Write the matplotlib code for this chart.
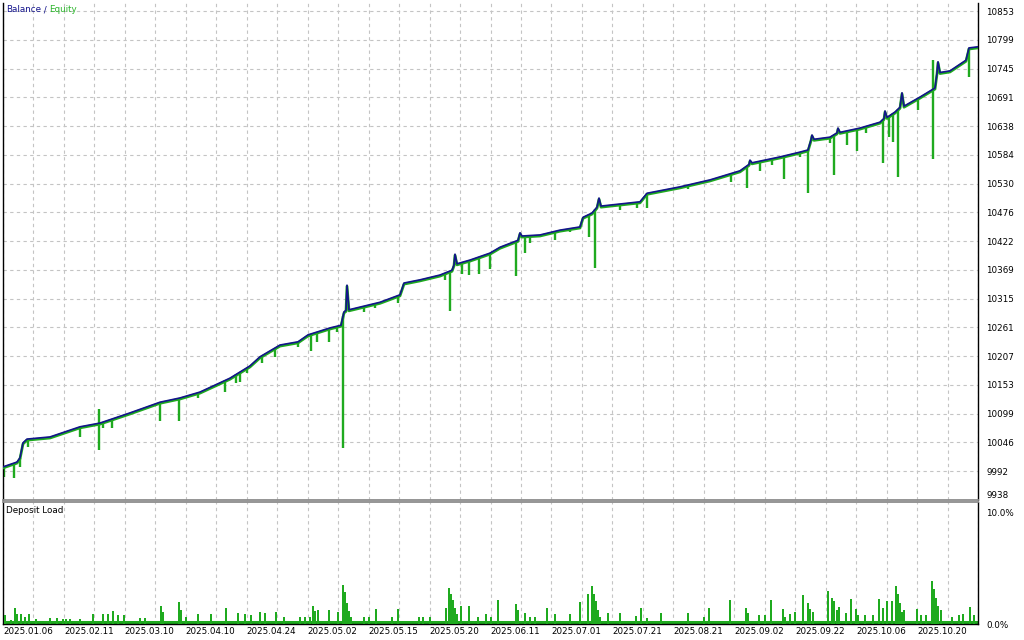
import matplotlib.pyplot as plt
import numpy as np

# balance curve: deal index, balance
bal_x = [0, 14, 17, 20, 24, 47, 77, 97, 127, 157, 177, 197, 227, 247, 257, 277, 295, 305,
         327, 338, 341, 343, 344, 346, 377, 397, 401, 417, 437, 449, 451, 452, 454, 467,
         487, 497, 515, 517, 519, 537, 557, 577, 580, 589, 594, 596, 598, 637, 644, 677,
         707, 737, 746, 747, 749, 777, 797, 805, 808, 809, 811, 827, 834, 835, 837, 857,
         877, 881, 882, 884, 892, 897, 899, 901, 917, 932, 934, 935, 937, 947, 963, 966, 975]
bal_y = [10000, 10009, 10017, 10045, 10052, 10056, 10075, 10082, 10101, 10121, 10129, 10140,
         10166, 10189, 10206, 10228, 10234, 10247, 10260, 10265, 10290, 10293, 10340, 10294,
         10308, 10322, 10344, 10350, 10359, 10368, 10378, 10398, 10380, 10387, 10400, 10411,
         10424, 10438, 10432, 10434, 10443, 10449, 10467, 10475, 10486, 10503, 10488, 10496,
         10512, 10524, 10537, 10554, 10566, 10574, 10569, 10580, 10589, 10593, 10612, 10621,
         10613, 10617, 10625, 10634, 10626, 10634, 10645, 10652, 10666, 10654, 10664, 10673,
         10700, 10675, 10692, 10709, 10737, 10758, 10738, 10741, 10761, 10784, 10786]

# equity dips: deal index, lowest equity
dip_x = [1, 11, 17, 25, 77, 96, 100, 109, 157, 176, 195, 222, 233, 237, 244, 259, 272, 295,
         308, 314, 326, 334, 340, 361, 372, 395, 442, 447, 459, 466, 476, 487, 513, 522, 527,
         552, 567, 586, 592, 617, 634, 644, 685, 702, 728, 744, 757, 769, 781, 797, 805, 827,
         831, 844, 854, 863, 880, 886, 890, 895, 915, 930, 966]
dip_y = [9981, 9979, 10000, 10037, 10056, 10031, 10073, 10073, 10086, 10086, 10129, 10140,
         10157, 10159, 10176, 10194, 10206, 10224, 10217, 10234, 10234, 10252, 10035, 10290,
         10297, 10307, 10350, 10292, 10361, 10359, 10361, 10370, 10357, 10400, 10419, 10425,
         10440, 10430, 10372, 10481, 10484, 10484, 10520, 10531, 10533, 10522, 10554, 10565,
         10539, 10580, 10512, 10606, 10546, 10602, 10591, 10625, 10569, 10617, 10608, 10542,
         10668, 10576, 10730]

# equity above balance
peak_x = [96, 930]
peak_y = [10108, 10761]

# deposit load, %
load_x = [2, 8, 12, 14, 18, 22, 26, 33, 47, 54, 60, 63, 67, 77, 90, 100, 105, 110, 115, 121,
          137, 142, 158, 160, 176, 178, 183, 195, 208, 223, 235, 242, 248, 257, 262, 273, 281,
          297, 302, 307, 310, 312, 315, 326, 335, 340, 342, 344, 346, 348, 361, 366, 373, 389,
          395, 416, 420, 427, 443, 446, 448, 450, 452, 454, 458, 466, 475, 483, 488, 495, 513,
          515, 522, 527, 532, 544, 552, 567, 577, 585, 589, 591, 593, 595, 597, 605, 617, 633,
          638, 644, 658, 685, 701, 706, 727, 743, 745, 756, 762, 768, 780, 782, 787, 792, 800,
          805, 807, 810, 825, 829, 831, 834, 836, 843, 848, 853, 855, 862, 870, 876, 880, 884,
          889, 893, 895, 897, 899, 901, 914, 918, 923, 929, 931, 933, 935, 938, 949, 956, 960,
          967, 971]
load_y = [0.8, 0.35, 1.4, 0.9, 0.9, 0.6, 0.9, 0.4, 0.5, 0.5, 0.45, 0.45, 0.4, 0.45, 0.85, 0.85,
          0.9, 1.1, 0.75, 0.8, 0.5, 0.5, 1.55, 1.0, 1.9, 1.2, 0.6, 0.85, 0.9, 1.35, 0.95, 0.9,
          0.8, 1.0, 0.95, 1.0, 0.6, 0.6, 0.6, 0.6, 1.6, 1.1, 1.2, 1.2, 1.0, 3.4, 2.8, 1.8, 1.1,
          0.6, 0.6, 0.6, 1.3, 0.6, 1.3, 0.6, 0.6, 0.6, 1.35, 3.1, 2.6, 2.05, 1.35, 0.9, 1.6,
          1.6, 0.6, 0.9, 0.6, 2.05, 1.7, 1.2, 0.95, 0.6, 0.6, 1.35, 0.9, 0.85, 1.9, 2.6, 3.3,
          2.6, 2.0, 1.2, 0.6, 0.95, 0.95, 0.7, 1.35, 0.5, 0.95, 0.95, 0.65, 1.35, 2.05, 1.4,
          0.95, 0.75, 0.8, 2.05, 1.3, 0.65, 0.85, 1.0, 2.55, 1.8, 1.3, 1.0, 2.9, 2.3, 2.0, 1.2,
          1.45, 0.95, 2.2, 1.3, 0.8, 0.8, 0.75, 2.2, 1.4, 2.0, 2.0, 3.3, 2.6, 1.8, 1.0, 1.25,
          1.3, 0.8, 0.8, 3.75, 3.0, 2.3, 1.6, 1.2, 0.65, 0.8, 0.9, 1.5, 0.8]
base_load = 0.3

date_labels = ['2025.01.06', '2025.02.11', '2025.03.10', '2025.04.10', '2025.04.24',
               '2025.05.02', '2025.05.15', '2025.05.20', '2025.06.11', '2025.07.01',
               '2025.07.21', '2025.08.21', '2025.09.02', '2025.09.22', '2025.10.06',
               '2025.10.20']
price_labels = ['9938', '9992', '10046', '10099', '10153', '10207', '10261', '10315', '10369',
                '10422', '10476', '10530', '10584', '10638', '10691', '10745', '10799', '10853']

n_deals = 975
blue = '#14148c'
green = '#1faa1f'
grid_col = '#c4c4c4'
font = 'DejaVu Sans'

fig = plt.figure(figsize=(10.24, 6.4), dpi=100)
ax = fig.add_axes([3 / 1024, 1 - 500 / 640, 975 / 1024, 497 / 640])
ax2 = fig.add_axes([3 / 1024, 1 - 624 / 640, 975 / 1024, 122 / 640])

grid_x = np.linspace(0, n_deals, 33)

# main panel
bal_at_dip = np.interp(dip_x, bal_x, bal_y)
bal_at_peak = np.interp(peak_x, bal_x, bal_y)
ax.vlines(dip_x, dip_y, bal_at_dip, color=green, lw=1.7, zorder=2)
ax.vlines(peak_x, bal_at_peak, peak_y, color=green, lw=1.7, zorder=2)
ax.plot(np.array(bal_x), np.array(bal_y) - 2, color=green, lw=2.0, zorder=3)
ax.plot(bal_x, bal_y, color=blue, lw=1.2, zorder=4)

ax.set_xlim(0, n_deals)
ax.set_ylim(9938, 10868)
ax.set_yticks(np.linspace(9938, 10853, len(price_labels)))
ax.set_yticklabels(price_labels)
ax.yaxis.tick_right()
ax.set_xticks(grid_x)
ax.set_xticklabels([])
ax.tick_params(length=0, labelsize=6.3, pad=6)
ax.get_yticklabels()[0].set_va('bottom')
ax.grid(True, color=grid_col, ls=(0, (3, 3)), lw=0.8)
ax.set_axisbelow(True)
for s in ['left', 'right']:
    ax.spines[s].set_color('black')
    ax.spines[s].set_linewidth(1.0)
ax.spines['top'].set_visible(False)
ax.spines['bottom'].set_color('#8c8c8c')
ax.spines['bottom'].set_linewidth(1.3)

t1 = ax.text(0.003, 0.995, 'Balance', color=blue, fontsize=6.3, family=font,
             transform=ax.transAxes, va='top', ha='left')
t2 = ax.annotate(' / ', xy=(1, 0), xycoords=t1, va='bottom', ha='left',
                 color=blue, fontsize=6.3, family=font)
ax.annotate('Equity', xy=(1, 0), xycoords=t2, va='bottom', ha='left',
            color='#2ab52a', fontsize=6.3, family=font)

# deposit load panel
ax2.fill_between([0, n_deals], 0, base_load, color=green, lw=0, zorder=2)
ax2.bar(load_x, load_y, width=1.8, color=green, lw=0, zorder=3)
ax2.set_xlim(0, n_deals)
ax2.set_ylim(0, 10.6)
ax2.set_yticks([0, 10])
ax2.set_yticklabels(['0.0%', '10.0%'])
ax2.yaxis.tick_right()
ax2.set_xticks(grid_x[::2][:len(date_labels)])
ax2.set_xticklabels(date_labels)
ax2.set_xticks(grid_x, minor=True)
for lbl in ax2.get_xticklabels():
    lbl.set_ha('left')
ax2.tick_params(which='both', length=0, labelsize=6.3, pad=6)
ax2.tick_params(axis='x', pad=2)
ax2.get_yticklabels()[1].set_va('top')
ax2.grid(True, axis='x', which='both', color=grid_col, ls=(0, (3, 3)), lw=0.8)
ax2.set_axisbelow(True)
for s in ['left', 'right', 'bottom']:
    ax2.spines[s].set_color('black')
    ax2.spines[s].set_linewidth(1.0)
ax2.spines['top'].set_color('#8c8c8c')
ax2.spines['top'].set_linewidth(1.3)
ax2.text(0.003, 0.97, 'Deposit Load', color='black', fontsize=6.3, family=font,
         transform=ax2.transAxes, va='top', ha='left')

fig.savefig('out.png', dpi=100)
